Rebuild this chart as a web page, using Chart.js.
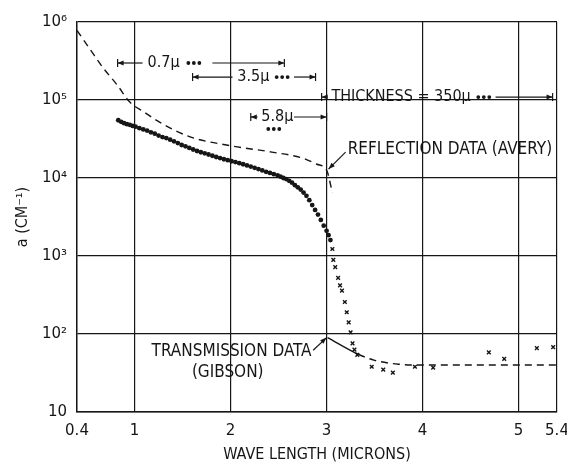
<!DOCTYPE html>
<html>
<head>
<meta charset="utf-8">
<script src="https://cdn.jsdelivr.net/npm/chart.js@4.4.1/dist/chart.umd.min.js"></script>
<style>
body{margin:0;background:#fff;}
#wrap{width:567px;height:464px;}
</style>
</head>
<body>
<div id="wrap"><canvas id="chart" width="567" height="464"></canvas></div>
<script>
// axis ticks
var xTicks = [0.4, 1, 2, 3, 4, 5, 5.4];
var yTicks = [10, 100, 1000, 10000, 100000, 1000000];
var yTickLabels = ["10", "10²", "10³", "10⁴", "10⁵", "10⁶"];

// dense dots (absorption, thin samples)
var dotX = [0.83,0.86,0.89,0.92,0.95,0.98,1.01,1.05,1.09,1.13,1.17,1.21,1.25,1.29,1.33,1.37,1.41,1.45,1.49,1.53,1.57,1.61,1.65,1.69,1.73,1.77,1.81,1.85,1.89,1.93,1.97,2.01,2.05,2.09,2.13,2.17,2.21,2.25,2.29,2.33,2.37,2.41,2.45,2.49,2.52,2.55,2.58,2.61,2.64,2.67,2.70,2.73,2.76,2.79,2.82,2.85,2.88,2.91,2.94,2.97,3.00,3.02,3.04];
var dotY = [55000,52500,50500,49000,48000,46500,45500,43500,42000,40500,38500,37000,35000,33500,32500,31000,29500,28000,26500,25500,24300,23200,22200,21400,20700,20000,19300,18600,18000,17400,16900,16400,16000,15500,15000,14500,14000,13500,13000,12500,12000,11600,11200,10800,10400,10000,9700,9200,8700,8100,7600,7100,6500,5900,5200,4500,3900,3400,2900,2450,2100,1850,1600];

// x marks (thick sample)
var crossX = [3.06,3.07,3.09,3.12,3.14,3.16,3.19,3.21,3.23,3.25,3.27,3.29,3.32,3.47,3.59,3.69,3.92,4.11,4.69,4.85,5.19,5.36];
var crossY = [1230,890,720,525,420,360,257,190,141,105,76,63,54,38,35,32,38,37,58,48,66,68];

// reflection data (Avery), dashed
var reflX = [0.4,0.54,0.67,0.82,0.95,1.1,1.26,1.57,1.99,2.43,2.75,2.9,3.0,3.06];
var reflY = [780000,440000,260000,155000,94000,70000,52000,34000,26000,21500,18000,15000,12600,6500];

// transmission data (Gibson)
var gibX = [3.01,3.33,3.5,3.75,4.0,4.5,5.0,5.4];
var gibY = [90,55,46,41,40,40,40,40];

function pts(xs, ys) {
    var out = [];
    for (var i in xs) out.push({x: xs[i], y: ys[i]});
    return out;
}

var INK = "#161616";
var LBL = "'DejaVu Sans Condensed', 'DejaVu Sans', sans-serif";

var annot = {
    id: 'annot',
    afterDraw: function(chart) {
        var ctx = chart.ctx, xs = chart.scales.x, ys = chart.scales.y;
        var px = function(v){ return xs.getPixelForValue(v); };
        var py = function(v){ return ys.getPixelForValue(v); };
        ctx.save();
        ctx.strokeStyle = INK;
        ctx.fillStyle = INK;
        ctx.lineWidth = 1.2;
        ctx.font = "16px " + LBL;
        ctx.textBaseline = "middle";

        function head(x, y, dir) {
            ctx.beginPath();
            ctx.moveTo(x, y);
            ctx.lineTo(x - dir * 6, y - 2.5);
            ctx.lineTo(x - dir * 6, y + 2.5);
            ctx.closePath();
            ctx.fill();
            ctx.beginPath();
            ctx.moveTo(x, y - 4);
            ctx.lineTo(x, y + 4);
            ctx.stroke();
        }
        function line(x1, x2, y) {
            ctx.beginPath();
            ctx.moveTo(x1, y);
            ctx.lineTo(x2, y);
            ctx.stroke();
        }
        function dots(x, y) {
            for (var k = 0; k < 3; k++) {
                ctx.beginPath();
                ctx.arc(x + k * 5.5, y, 1.9, 0, Math.PI * 2);
                ctx.fill();
            }
        }
        function pointer(x1, y1, x2, y2) {
            var a = Math.atan2(y2 - y1, x2 - x1);
            ctx.beginPath();
            ctx.moveTo(x1, y1);
            ctx.lineTo(x2, y2);
            ctx.stroke();
            ctx.beginPath();
            ctx.moveTo(x2, y2);
            ctx.lineTo(x2 - 7 * Math.cos(a - 0.35), y2 - 7 * Math.sin(a - 0.35));
            ctx.lineTo(x2 - 7 * Math.cos(a + 0.35), y2 - 7 * Math.sin(a + 0.35));
            ctx.closePath();
            ctx.fill();
        }

        var rows = [
            {y: 2.98e5, l: [0.823, 1.083], label: '0.7μ', lx: 1.135, d: 1.56, r: [1.81, 2.56]},
            {y: 1.97e5, l: [1.604, 2.02], label: '3.5μ', lx: 2.07, d: 2.48, r: [2.66, 2.885]},
            {y: 6.05e4, l: [2.21, 2.28], label: '5.8μ', lx: 2.32, d: null, r: [2.66, 3.0]},
            {y: 1.09e5, l: [2.948, 3.01], label: 'THICKNESS = 350μ', lx: 3.05, d: 4.58, r: [4.76, 5.354]}
        ];
        rows.forEach(function(r) {
            var y = py(r.y);
            line(px(r.l[0]), px(r.l[1]), y);
            head(px(r.l[0]), y, -1);
            ctx.fillText(r.label, px(r.lx), y);
            if (r.d) dots(px(r.d), y);
            line(px(r.r[0]), px(r.r[1]), y);
            head(px(r.r[1]), y, 1);
        });
        dots(px(2.45) - 5.5, py(4.25e4));

        ctx.font = "17px " + LBL;
        // reflection label + pointer
        ctx.fillText('REFLECTION DATA (AVERY)', px(3.22), py(2.29e4));
        pointer(px(3.198), py(21500), px(3.02), py(13000));

        // transmission label + pointer
        ctx.fillText('TRANSMISSION DATA', px(1.177), py(58.7));
        ctx.textAlign = "center";
        ctx.fillText('(GIBSON)', px(1.97), py(31.6));
        pointer(px(2.86), py(62), px(3.0), py(90));
        ctx.restore();
    }
};

var chart = new Chart(document.getElementById("chart"), {
    type: 'scatter',
    data: {
        datasets: [
            {
                label: "Reflection (Avery)",
                type: 'line',
                data: pts(reflX, reflY),
                borderColor: INK,
                borderWidth: 1.4,
                borderDash: [7, 5],
                pointRadius: 0,
                fill: false,
                cubicInterpolationMode: 'monotone'
            },
            {
                label: "Transmission (Gibson)",
                type: 'line',
                data: pts(gibX, gibY),
                borderColor: INK,
                borderWidth: 1.4,
                pointRadius: 0,
                fill: false,
                cubicInterpolationMode: 'monotone',
                segment: {
                    borderDash: function(c) { return c.p0DataIndex < 1 ? [] : [7, 5]; }
                }
            },
            {
                label: "dots",
                data: pts(dotX, dotY),
                backgroundColor: INK,
                borderColor: INK,
                pointRadius: 2.4,
                borderWidth: 0
            },
            {
                label: "crosses",
                data: pts(crossX, crossY),
                pointStyle: 'crossRot',
                borderColor: INK,
                borderWidth: 1.4,
                pointRadius: 2.6
            }
        ]
    },
    options: {
        responsive: false,
        animation: false,
        layout: {padding: {top: 22, right: 10, left: 0, bottom: 0}},
        plugins: {legend: {display: false}, tooltip: {enabled: false}},
        scales: {
            x: {
                type: 'linear',
                min: 0.4,
                max: 5.4,
                afterBuildTicks: function(s) { s.ticks = xTicks.map(function(v){ return {value: v}; }); },
                afterFit: function(s) { s.height = 52; s.paddingRight = 0; s.paddingLeft = 0; },
                grid: {color: INK, lineWidth: 1.2, drawTicks: false},
                border: {color: INK, width: 1.4},
                ticks: {
                    color: INK,
                    padding: 10,
                    maxRotation: 0,
                    autoSkip: false,
                    font: {family: "'DejaVu Sans'", size: 15},
                    callback: function(v) { return String(v); }
                },
                title: {
                    display: true,
                    text: 'WAVE LENGTH (MICRONS)',
                    color: INK,
                    font: {family: LBL, size: 16},
                    padding: {top: 0, bottom: 0}
                }
            },
            y: {
                type: 'logarithmic',
                min: 10,
                max: 1000000,
                afterBuildTicks: function(s) { s.ticks = yTicks.map(function(v){ return {value: v}; }); },
                afterFit: function(s) { s.width = 77; },
                grid: {color: INK, lineWidth: 1.2, drawTicks: false},
                border: {color: INK, width: 1.4},
                ticks: {
                    color: INK,
                    padding: 10,
                    autoSkip: false,
                    font: {family: "'DejaVu Sans'", size: 15},
                    callback: function(v) { return yTickLabels[yTicks.indexOf(v)]; }
                },
                title: {
                    display: true,
                    text: 'a (CM⁻¹)',
                    color: INK,
                    font: {family: LBL, size: 16},
                    padding: {top: 13, bottom: 0}
                }
            }
        }
    },
    plugins: [annot]
});
</script>
</body>
</html>
